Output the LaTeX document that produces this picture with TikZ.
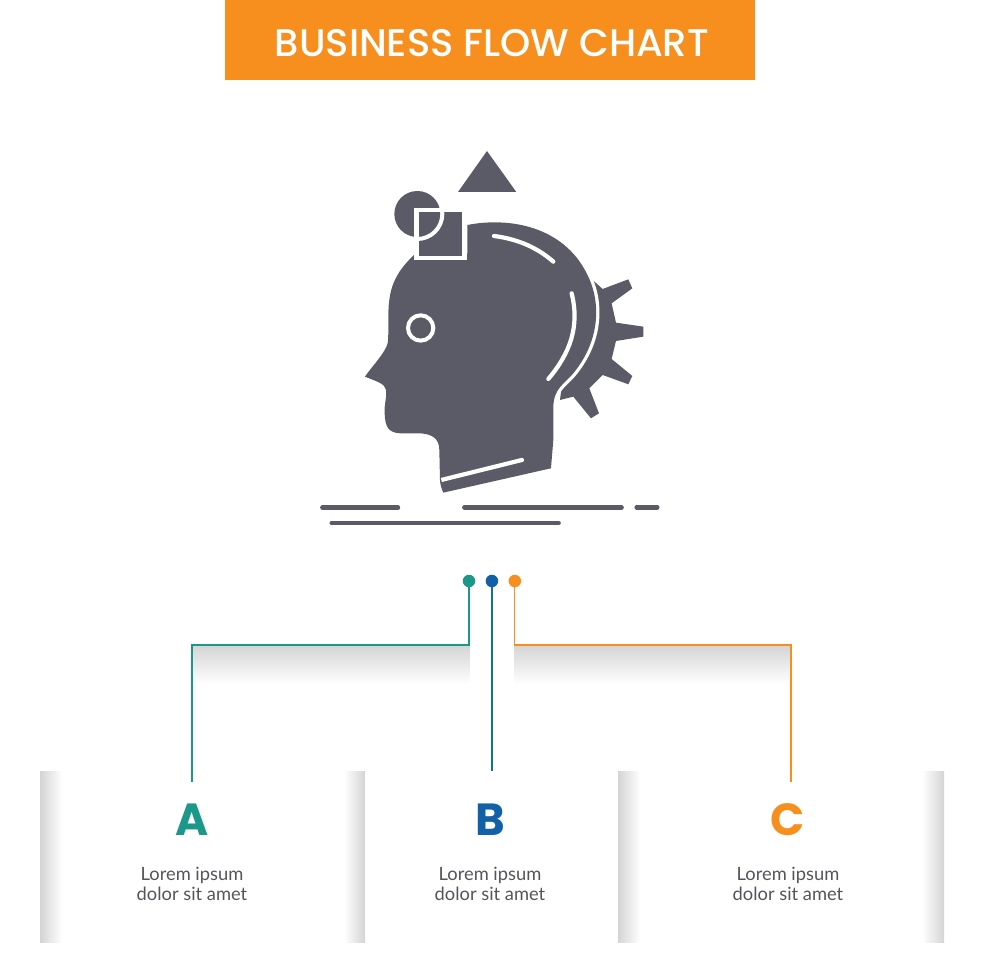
\documentclass[tikz,border=0pt]{standalone}
\usepackage{fontspec}
\setmainfont{Lato}
\newfontfamily\titlefont{Poppins}
\newfontfamily\headfont{Poppins Medium}
\usetikzlibrary{positioning}
\definecolor{inkc}{HTML}{5B5A67}
\definecolor{txtc}{HTML}{55545C}
\definecolor{orangec}{HTML}{F78F1E}
\definecolor{tealc}{HTML}{1C988A}
\definecolor{bluec}{HTML}{1160A8}
\definecolor{shadec}{HTML}{D4D4D4}
\tikzset{
    dot/.style={circle, inner sep=0pt, minimum size=12.5pt},
    wire/.style={line width=1.3pt},
    letter/.style={font=\fontsize{45}{45}\selectfont\titlefont\bfseries, inner sep=0pt},
    blurb/.style={font=\fontsize{18.3}{20.5}\selectfont, text=txtc, align=center, inner sep=0pt},
    rule/.style={line width=4.4pt, line cap=round, inkc},
    cutline/.style={white, line width=4.2pt, line cap=round}
}

\begin{document}
\begin{tikzpicture}[x=1pt,y=-1pt]
    \useasboundingbox (0,0) rectangle (980,980);
    % title
    \fill[orangec] (225,0) rectangle (755,80);
    \node [font=\fontsize{38.5}{38.5}\selectfont\headfont, text=white, inner sep=0pt] (title) at (492,43) {BUSINESS FLOW CHART};
    % icon, coordinates taken from the 3x crop
    \begin{scope}[shift={(310,140)}, x=0.3333pt, y=-0.3333pt]
        \fill[inkc] (531,33) -- (619,156) -- (444,156) -- cycle;
        \fill[inkc] (322,222) circle (69);
        % gear
        \fill[inkc] (848,420) -- (878,447) -- (955,418) -- (967,445) -- (905,490) -- (918,548) -- (1000,560) -- (1000,590) -- (918,603) -- (905,657) -- (967,708) -- (955,733) -- (878,705) -- (838,745) -- (867,820) -- (843,835) -- (790,770) -- (750,780) -- (760,700) -- (780,500) -- cycle;
        \draw[white, line width=6.6pt] (830,400) .. controls (868,470) and (880,590) .. (790,700) .. controls (760,735) and (732,745) .. (730,800);
        % head
        \fill[inkc] (472,255) .. controls (600,230) and (760,260) .. (830,400) .. controls (868,470) and (880,590) .. (790,700) .. controls (760,735) and (732,745) .. (730,800) -- (730,900) -- (723,985) -- (400,1058) .. controls (394,1045) and (391,1035) .. (390,1020) -- (388,930) .. controls (388,895) and (365,882) .. (330,880) -- (270,880) .. controls (235,878) and (225,860) .. (224,820) .. controls (222,790) and (232,770) .. (228,750) .. controls (225,730) and (200,725) .. (165,710) .. controls (185,680) and (225,640) .. (233,610) .. controls (238,570) and (232,520) .. (238,480) .. controls (245,420) and (275,380) .. (312,345) -- (340,340) -- (472,340) -- cycle;
        % square over the head
        \fill[white] (312,205) rectangle (472,360);
        \fill[inkc] (327,216) rectangle (457,347);
        \begin{scope}
            \clip (327,205) rectangle (457,347);
            \draw[white, line width=4pt] (322,222) circle (75);
        \end{scope}
        \draw[cutline] (552,288) .. controls (625,297) and (685,325) .. (730,365);
        \draw[cutline] (785,460) .. controls (810,560) and (780,640) .. (715,717);
        \draw[cutline, line cap=butt] (394,1020) -- (636,960);
        \fill[white] (636,960) circle (6.3);
        \draw[white, line width=4pt, fill=inkc] (332,564) circle (38);
        \draw[rule] (37,1103) -- (264,1103);
        \draw[rule] (463,1102) -- (935,1102);
        \draw[rule] (980,1102) -- (1042,1102);
        \draw[rule] (65,1149) -- (746,1149);
    \end{scope}
    % shadows under the wires
    \shade[top color=shadec, bottom color=white] (192,645) rectangle (470,684);
    \shade[top color=shadec, bottom color=white] (514,645) rectangle (791,684);
    % panels
    \shade[left color=shadec, right color=white] (40,771) rectangle (62,942);
    \shade[left color=white, right color=shadec] (344,771) rectangle (365,942);
    \shade[left color=shadec, right color=white] (618,771) rectangle (640,942);
    \shade[left color=white, right color=shadec] (922,771) rectangle (944,942);
    % dots and wires
    \node [dot, fill=tealc] (dotA) at (469,581) {};
    \node [dot, fill=bluec, right=10pt of dotA] (dotB) {};
    \node [dot, fill=orangec, right=10pt of dotB] (dotC) {};
    \coordinate (kneeA) at (192,645);
    \coordinate (kneeC) at (791,645);
    \coordinate (endA) at (192,782);
    \coordinate (endB) at (dotB |- 0,771);
    \coordinate (endC) at (791,782);
    \draw [wire, tealc] (dotA) |- (kneeA) -- (endA);
    \draw [wire, bluec!75!tealc] (dotB) -- (endB);
    \draw [wire, orangec] (dotC) |- (kneeC) -- (endC);
    % letters and text
    \node [letter, text=tealc] (labA) at (192,820) {A};
    \node [letter, text=bluec] (labB) at (490,820) {B};
    \node [letter, text=orangec] (labC) at (788,820) {C};
    \node [blurb] (txtA) at (192,884) {Lorem ipsum\\dolor sit amet};
    \node [blurb] (txtB) at (490,884) {Lorem ipsum\\dolor sit amet};
    \node [blurb] (txtC) at (788,884) {Lorem ipsum\\dolor sit amet};
\end{tikzpicture}
\end{document}
